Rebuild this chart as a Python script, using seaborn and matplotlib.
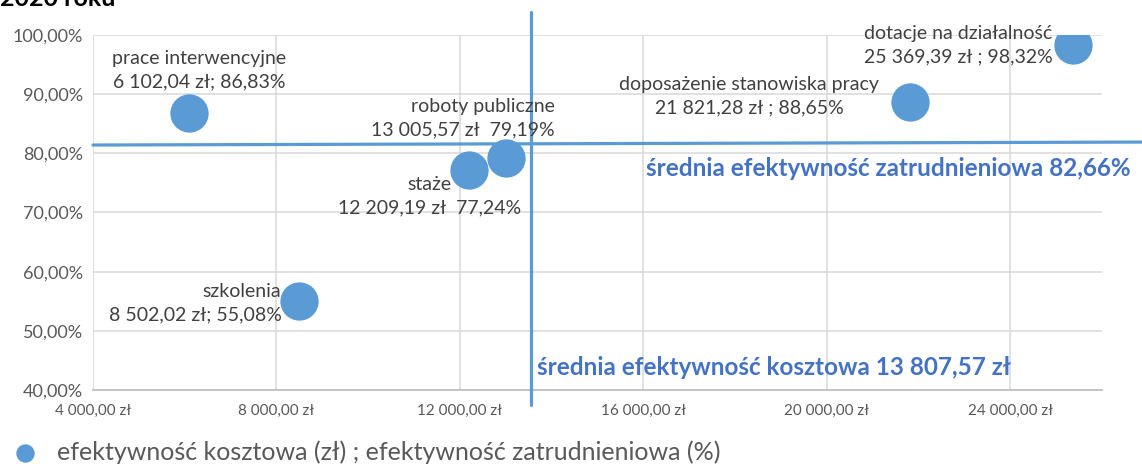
import matplotlib
matplotlib.use("Agg")
import matplotlib.pyplot as plt
from matplotlib.ticker import FuncFormatter, MultipleLocator
import seaborn as sns
import pandas as pd

# data
forms = ["prace interwencyjne", "szkolenia", "staże", "roboty publiczne",
         "doposażenie stanowiska pracy", "dotacje na działalność"]
cost = [6102.04, 8502.02, 12209.19, 13005.57, 21821.28, 25369.39]
rate = [86.83, 55.08, 77.24, 79.19, 88.65, 98.32]
seps = ["; ", "; ", "  ", "  ", " ; ", " ; "]

avg_cost = 13807.57
avg_rate = 82.66
# where the average lines are actually drawn in the picture
line_x = 13560
line_y = 81.6

title = "2020 roku"
legend_label = "efektywność kosztowa (zł) ; efektywność zatrudnieniowa (%)"

df = pd.DataFrame({"form": forms, "cost": cost, "rate": rate})

blue = "#5B9BD5"
dark_blue = "#4472C4"
txt = "#404040"

sns.set_style("white")
plt.rcParams["font.family"] = ["Lato", "DejaVu Sans"]


def pl_num(v):
    return f"{v:,.2f}".replace(",", " ").replace(".", ",")


fig = plt.figure(figsize=(11.42, 4.66), dpi=100)
ax = fig.add_axes([0.0814, 0.163, 0.8836, 0.762])

sns.scatterplot(data=df, x="cost", y="rate", s=760, color=blue, edgecolor=blue,
                linewidth=0, ax=ax, zorder=5, label=legend_label)

ax.set_xlim(4000, 26000)
ax.set_ylim(40, 100)
ax.xaxis.set_major_locator(MultipleLocator(4000))
ax.yaxis.set_major_locator(MultipleLocator(10))
ax.xaxis.set_major_formatter(FuncFormatter(lambda v, p: f"{pl_num(v)} zł"))
ax.yaxis.set_major_formatter(FuncFormatter(lambda v, p: f"{pl_num(v)}%"))
ax.grid(True, color="#d9d9d9", linewidth=1.1)
ax.set_axisbelow(True)
for s in ["top", "right", "left"]:
    ax.spines[s].set_visible(False)
ax.spines["bottom"].set_color("#bfbfbf")
ax.spines["bottom"].set_linewidth(1.3)
ax.tick_params(axis="x", labelsize=11, colors="#595959", length=0, pad=10)
ax.tick_params(axis="y", labelsize=13, colors="#595959", length=0, pad=7)
ax.set_xlabel("")
ax.set_ylabel("")

# average lines (hand-drawn in the original, run outside the plot area)
ax.plot([line_x, line_x], [103.9, 37.5], color=blue, lw=2.3, clip_on=False, zorder=4)
ax.plot([4000, 26870], [line_y - 0.2, line_y + 0.3], color=blue, lw=2.3,
        clip_on=False, zorder=4)

ax.text(16065, 77.5, f"średnia efektywność zatrudnieniowa {pl_num(avg_rate)}%",
        color=dark_blue, fontsize=17.5, fontweight="bold", va="center", ha="left")
ax.text(13674, 43.75, f"średnia efektywność kosztowa {pl_num(avg_cost)} zł",
        color=dark_blue, fontsize=17.5, fontweight="bold", va="center", ha="left")

# data labels: offsets in points and alignment
offsets = [(7, 31, "center"), (-13, -2, "right"), (-29, -19, "center"),
           (35, 29, "right"), (-116, 4, "center"), (-15, 0, "right")]
for f, c, r, sep, (dx, dy, ha) in zip(forms, cost, rate, seps, offsets):
    label = f"{f}\n{pl_num(c)} zł{sep}{pl_num(r)}%"
    ax.annotate(label, (c, r), xytext=(dx, dy), textcoords="offset points",
                ha=ha, va="center", multialignment=ha, fontsize=14,
                color=txt, linespacing=1.45, zorder=6)

leg = ax.legend(loc="center left", bbox_to_anchor=(-0.088, -0.175), frameon=False,
                fontsize=18, markerscale=0.48, handlelength=0.9, handletextpad=0.8,
                labelcolor="#595959", borderaxespad=0)

fig.text(0.0, 0.987, title, fontsize=18, fontweight="bold", color="black",
         ha="left", va="baseline")

fig.savefig("out.png", dpi=100)
